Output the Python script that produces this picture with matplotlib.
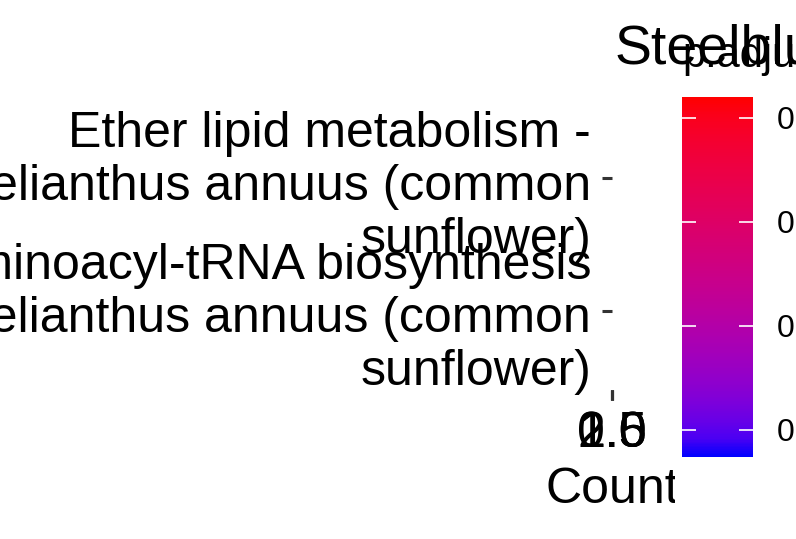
import numpy as np
import matplotlib
matplotlib.use("Agg")
import matplotlib.pyplot as plt
from matplotlib.colors import LinearSegmentedColormap, Normalize
from matplotlib.cm import ScalarMappable
from matplotlib.patches import Rectangle

plt.rcParams['font.family'] = ['Liberation Sans', 'DejaVu Sans']

# data
pathways = ["Aminoacyl-tRNA biosynthesis\n- Helianthus annuus (common\nsunflower)",
            "Ether lipid metabolism -\nHelianthus annuus (common\nsunflower)"]
counts = [1, 2]
p_adjust = [0.0087, 0.0260]
x_ticks = [0.5, 1.0, 1.5, 2.0]
cbar_ticks = [0.010, 0.015, 0.020, 0.025]
cbar_labels = ["0.010", "0.015", "0.020", "0.025"]


# blue -> red gradient interpolated in Lab space (like ggplot's gradient)
def srgb_to_lab(rgb):
    c = np.asarray(rgb, float)
    c = np.where(c <= 0.04045, c / 12.92, ((c + 0.055) / 1.055) ** 2.4)
    m = np.array([[0.4124, 0.3576, 0.1805],
                  [0.2126, 0.7152, 0.0722],
                  [0.0193, 0.1192, 0.9505]])
    xyz = m @ c / np.array([0.95047, 1.0, 1.08883])
    f = np.where(xyz > 0.008856, np.cbrt(xyz), 7.787 * xyz + 16 / 116)
    return np.array([116 * f[1] - 16, 500 * (f[0] - f[1]), 200 * (f[1] - f[2])])


def lab_to_srgb(lab):
    fy = (lab[0] + 16) / 116
    fx = fy + lab[1] / 500
    fz = fy - lab[2] / 200
    f = np.array([fx, fy, fz])
    xyz = np.where(f ** 3 > 0.008856, f ** 3, (f - 16 / 116) / 7.787)
    xyz = xyz * np.array([0.95047, 1.0, 1.08883])
    m = np.array([[3.2406, -1.5372, -0.4986],
                  [-0.9689, 1.8758, 0.0415],
                  [0.0557, -0.2040, 1.0570]])
    c = m @ xyz
    c = np.clip(c, 0, 1)
    c = np.where(c <= 0.0031308, 12.92 * c, 1.055 * c ** (1 / 2.4) - 0.055)
    return np.clip(c, 0, 1)


lab_lo = srgb_to_lab([0, 0, 1])
lab_hi = srgb_to_lab([1, 0, 0])
stops = np.linspace(0, 1, 21)
cols = [lab_to_srgb(lab_lo + t * (lab_hi - lab_lo)) for t in stops]
cmap = LinearSegmentedColormap.from_list("bluered", list(zip(stops, cols)))
norm = Normalize(vmin=min(p_adjust), vmax=max(p_adjust))

W, H = 796, 539
fig = plt.figure(figsize=(W / 100, H / 100), dpi=100)
fig.patch.set_facecolor("white")

# the panel is squeezed to (almost) zero width, so the points get clipped away
ax = fig.add_axes([612 / W, 1 - 390 / H, 1e-6, 291 / H])
ax.scatter(counts, range(len(pathways)), c=p_adjust, cmap=cmap, norm=norm,
           s=[c * 200 for c in counts], clip_on=True)
ax.set_xlim(0.4, 2.1)
ax.set_ylim(-0.6, 1.6)
ax.set_xticks(x_ticks)
ax.set_xticklabels([f"{v:.1f}" for v in x_ticks])
ax.set_yticks(range(len(pathways)))
ax.set_yticklabels(pathways, linespacing=1.2)
for s in ax.spines.values():
    s.set_visible(False)
ax.tick_params(axis="both", length=7, width=2.2, color="#333333",
               labelsize=36, labelcolor="black")
ax.tick_params(axis="y", pad=8)
ax.tick_params(axis="x", pad=8)
ax.set_xlabel("Count", fontsize=36, labelpad=7)

# legend background hides part of the x label
fig.patches.append(Rectangle((675 / W, 1 - 515 / H), 121 / W, 485 / H,
                             transform=fig.transFigure, facecolor="white",
                             edgecolor="none", zorder=1))

cax = fig.add_axes([682 / W, 1 - 457 / H, 71 / W, 360 / H], zorder=2)
sm = ScalarMappable(norm=norm, cmap=cmap)
cb = fig.colorbar(sm, cax=cax)
cb.outline.set_visible(False)
cb.set_ticks(cbar_ticks)
cb.set_ticklabels(cbar_labels)
cax.tick_params(axis="y", direction="in", length=10, width=1.2, color="white",
                left=True, right=True, labelsize=23, pad=17)
fig.text(682 / W, 1 - 67 / H, "p.adjust", fontsize=30, va="baseline",
         ha="left", zorder=3)

fig.text(615 / W, 1 - 63 / H, "Steelblue", fontsize=40, va="baseline",
         ha="left", zorder=4)

fig.savefig("out.png", dpi=100)
